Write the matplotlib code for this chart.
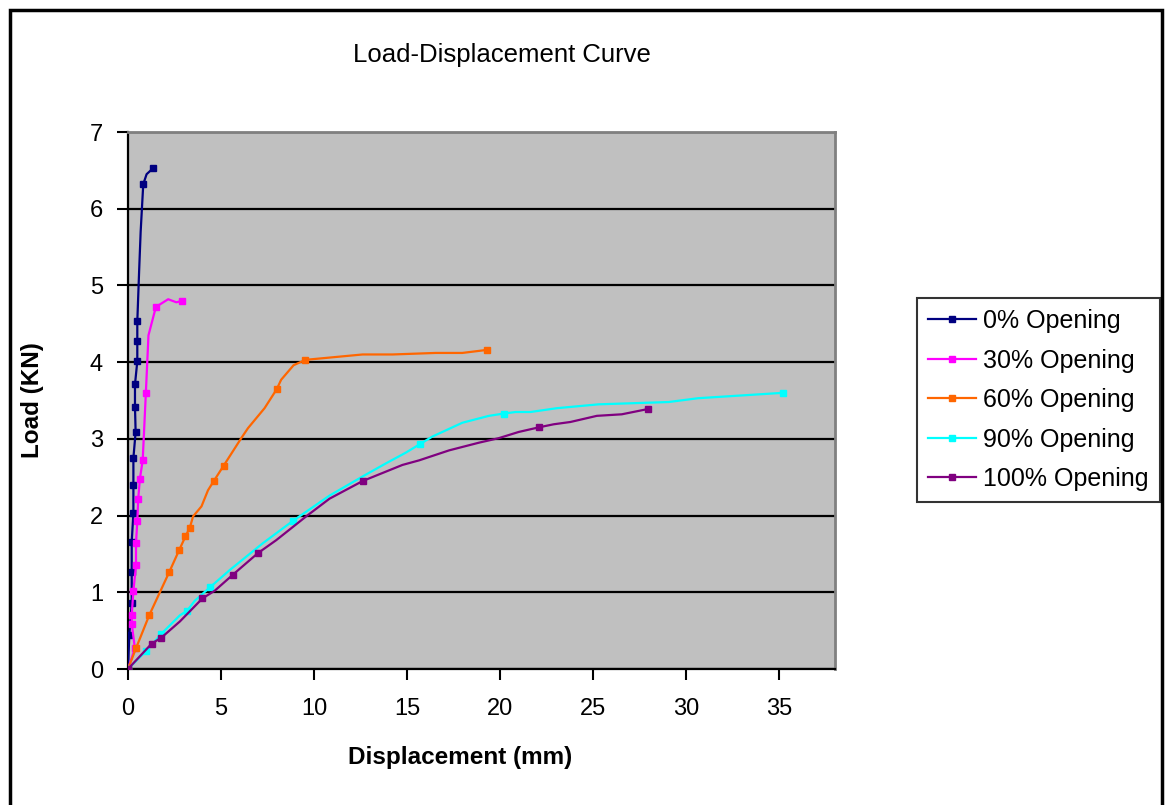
import matplotlib
matplotlib.use('Agg')
import matplotlib.pyplot as plt
from matplotlib.patches import Rectangle

plt.rcParams['font.family'] = ['Liberation Sans', 'DejaVu Sans']

# 讀圖得到的資料 (displacement mm, load KN)
x_0 = [0, 0.07, 0.2, 0.2, 0.2, 0.29, 0.29, 0.29, 0.41, 0.375, 0.375, 0.5, 0.5, 0.5, 0.6, 0.68, 0.82, 1.0, 1.36]
y_0 = [0, 0.44, 0.86, 1.26, 1.66, 2.03, 2.40, 2.75, 3.09, 3.42, 3.71, 4.01, 4.27, 4.53, 5.2, 5.7, 6.32, 6.45, 6.53]
m_0 = [0, 1, 2, 3, 4, 5, 6, 7, 8, 9, 10, 11, 12, 13, 16, 18]

x_30 = [0, 0.37, 0.2, 0.2, 0.29, 0.43, 0.43, 0.5, 0.55, 0.64, 0.79, 0.96, 1.1, 1.5, 2.16, 2.6, 2.91]
y_30 = [0, 0.27, 0.59, 0.70, 1.02, 1.35, 1.64, 1.93, 2.22, 2.48, 2.72, 3.60, 4.35, 4.72, 4.82, 4.78, 4.80]
m_30 = [1, 2, 3, 4, 5, 6, 7, 8, 9, 10, 11, 13, 16]

x_60 = [0, 0.43, 1.14, 2.21, 2.75, 3.09, 3.32, 3.5, 3.95, 4.3, 4.61, 5.14, 6.09, 6.45, 7.34, 8.0, 8.23, 8.9, 9.54,
        12.61, 14.22, 16.54, 17.97, 19.31]
y_60 = [0, 0.27, 0.70, 1.26, 1.55, 1.73, 1.84, 1.99, 2.12, 2.33, 2.45, 2.65, 3.01, 3.14, 3.40, 3.65, 3.77, 3.96, 4.03,
        4.10, 4.10, 4.12, 4.12, 4.16]
m_60 = [0, 1, 2, 3, 4, 5, 6, 10, 11, 15, 18, 23]

x_90 = [0, 0.96, 1.8, 2.79, 3.18, 3.59, 4.43, 5.47, 7.25, 8.86, 10.83, 12.61, 13.86, 14.93, 15.68, 16.36, 17.97,
        19.4, 20.2, 20.83, 21.63, 23.06, 25.29, 29.05, 30.65, 35.2]
y_90 = [0, 0.23, 0.46, 0.70, 0.76, 0.89, 1.07, 1.29, 1.64, 1.93, 2.26, 2.51, 2.68, 2.82, 2.93, 3.03, 3.21,
        3.30, 3.33, 3.35, 3.35, 3.40, 3.45, 3.48, 3.53, 3.60]
m_90 = [0, 1, 2, 4, 6, 9, 14, 18, 25]

x_100 = [0, 1.27, 1.8, 2.79, 4.0, 4.66, 5.64, 6.98, 7.97, 9.58, 10.83, 12.61, 14.75, 15.65, 17.26, 18.86, 19.94,
         21.0, 22.08, 22.88, 23.78, 25.2, 26.54, 27.97]
y_100 = [0, 0.33, 0.41, 0.62, 0.92, 1.02, 1.23, 1.51, 1.68, 1.99, 2.22, 2.45, 2.66, 2.72, 2.85, 2.95, 3.01,
         3.09, 3.15, 3.19, 3.22, 3.30, 3.32, 3.39]
m_100 = [0, 1, 2, 4, 6, 7, 11, 18, 23]

labels = ['0% Opening', '30% Opening', '60% Opening', '90% Opening', '100% Opening']
colors = ['#000080', '#FF00FF', '#FF6600', '#00FFFF', '#800080']

fig = plt.figure(figsize=(11.68, 8.05), dpi=100)
ax = fig.add_axes([128 / 1168, 1 - 669 / 805, (835 - 128) / 1168, (669 - 132) / 805])

series = [(x_0, y_0, m_0), (x_30, y_30, m_30), (x_60, y_60, m_60), (x_90, y_90, m_90), (x_100, y_100, m_100)]
for (xs, ys, ms), lab, c in zip(series, labels, colors):
    ax.plot(xs, ys, color=c, lw=1.6, marker='s', ms=3.8, markevery=ms, label=lab, zorder=3)

ax.set_facecolor('#C0C0C0')
ax.set_xlim(0, 38)
ax.set_ylim(0, 7)
ax.set_xticks(range(0, 40, 5))
ax.set_yticks(range(0, 8))
ax.yaxis.grid(True, color='black', lw=1.6)
ax.set_axisbelow(True)
for s in ['top', 'right']:
    ax.spines[s].set_color('#808080')
    ax.spines[s].set_linewidth(2)
for s in ['left', 'bottom']:
    ax.spines[s].set_color('black')
    ax.spines[s].set_linewidth(1.6)
ax.tick_params(direction='out', length=8, width=1.5, labelsize=17, pad=10)
ax.tick_params(axis='x', pad=13)

ax.set_xlabel('Displacement (mm)', fontsize=17.5, fontweight='bold')
ax.xaxis.set_label_coords((460 - 128) / 707, -(757 - 669) / 537)
ax.xaxis.label.set_va('center')
ax.set_ylabel('Load (KN)', fontsize=17.5, fontweight='bold')
ax.yaxis.set_label_coords(-(128 - 33) / 707, 0.5)
ax.yaxis.label.set_va('center')
fig.text(502 / 1168, 1 - 55 / 805, 'Load-Displacement Curve', fontsize=18.5, ha='center', va='center')

leg = ax.legend(loc='center left', bbox_to_anchor=(917 / 1168, 1 - 400 / 805), bbox_transform=fig.transFigure,
                fontsize=18, frameon=True, fancybox=False, borderpad=0.45, labelspacing=0.62,
                handlelength=1.9, handletextpad=0.28, borderaxespad=0)
leg.get_frame().set_edgecolor('black')
leg.get_frame().set_linewidth(1.5)

# 外框
fig.patches.append(Rectangle((10 / 1168, -0.05), (1162 - 10) / 1168, 1 - 10 / 805 + 0.05,
                             transform=fig.transFigure, fill=False, edgecolor='black', lw=2.5))

plt.savefig('out.png', dpi=100)
plt.close()
